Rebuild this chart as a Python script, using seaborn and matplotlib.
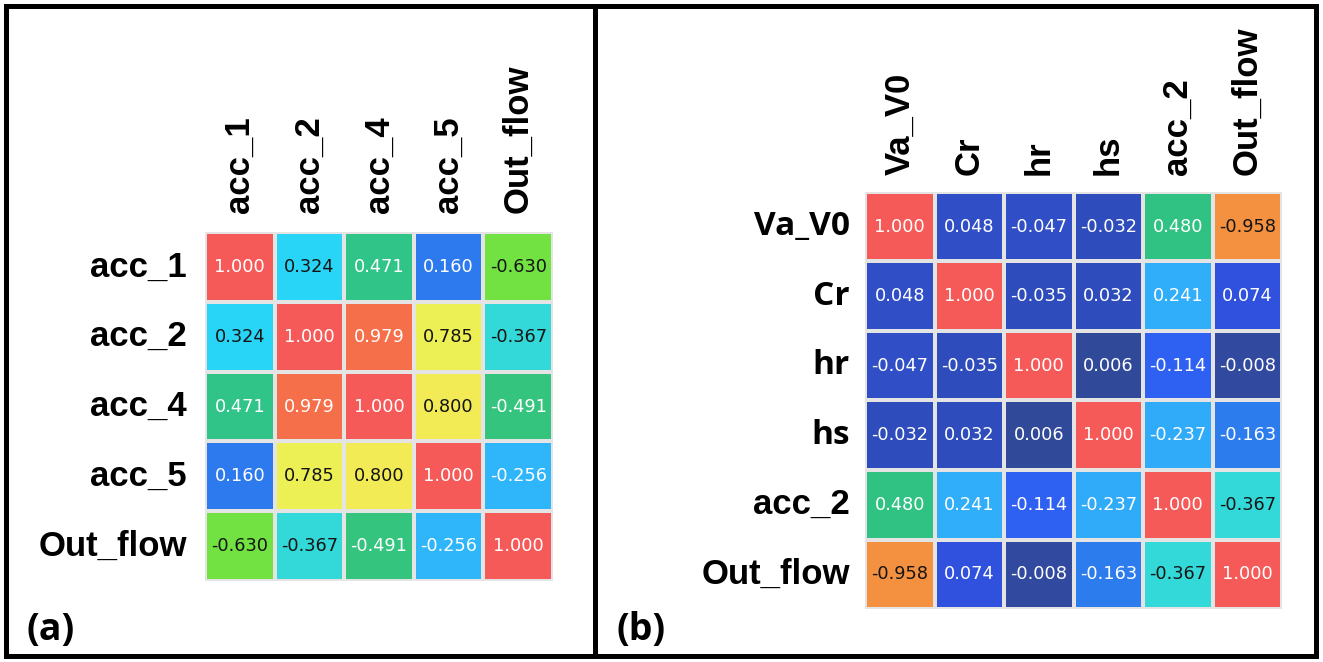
import numpy as np
import pandas as pd
import matplotlib
matplotlib.use("Agg")
import matplotlib.pyplot as plt
from matplotlib.colors import LinearSegmentedColormap
from matplotlib.patches import Rectangle
import seaborn as sns

# ---- data -------------------------------------------------------------
left_labels = ["acc_1", "acc_2", "acc_4", "acc_5", "Out_flow"]
left_corr = [
    [1.000, 0.324, 0.471, 0.160, -0.630],
    [0.324, 1.000, 0.979, 0.785, -0.367],
    [0.471, 0.979, 1.000, 0.800, -0.491],
    [0.160, 0.785, 0.800, 1.000, -0.256],
    [-0.630, -0.367, -0.491, -0.256, 1.000],
]

right_labels = ["Va_V0", "Cr", "hr", "hs", "acc_2", "Out_flow"]
right_corr = [
    [1.000, 0.048, -0.047, -0.032, 0.480, -0.958],
    [0.048, 1.000, -0.035, 0.032, 0.241, 0.074],
    [-0.047, -0.035, 1.000, 0.006, -0.114, -0.008],
    [-0.032, 0.032, 0.006, 1.000, -0.237, -0.163],
    [0.480, 0.241, -0.114, -0.237, 1.000, -0.367],
    [-0.958, 0.074, -0.008, -0.163, -0.367, 1.000],
]

# colour scale on the magnitude of the correlation
cmap_stops = [
    (0.000, (50, 72, 148)),
    (0.030, (46, 76, 186)),
    (0.050, (48, 78, 200)),
    (0.075, (48, 82, 225)),
    (0.114, (46, 96, 242)),
    (0.160, (44, 124, 238)),
    (0.240, (48, 174, 250)),
    (0.324, (40, 214, 246)),
    (0.367, (52, 216, 214)),
    (0.480, (48, 194, 130)),
    (0.630, (112, 226, 66)),
    (0.790, (242, 240, 86)),
    (0.958, (242, 150, 62)),
    (0.979, (246, 112, 74)),
    (1.000, (246, 90, 88)),
]
corr_cmap = LinearSegmentedColormap.from_list(
    "corr_abs", [(p, tuple(c / 255 for c in rgb)) for p, rgb in cmap_stops]
)

sns.set_theme(style="white")
plt.rcParams["font.family"] = ["DejaVu Sans"]
plt.rcParams["text.color"] = "black"
plt.rcParams["xtick.color"] = "black"
plt.rcParams["ytick.color"] = "black"

W, H = 1323, 662
fig = plt.figure(figsize=(W / 100, H / 100), dpi=100)
fig.patch.set_facecolor("white")


def px_axes(x0, y0, x1, y1):
    return fig.add_axes([x0 / W, 1 - y1 / H, (x1 - x0) / W, (y1 - y0) / H])


def draw_corr(ax, labels, values, xpad, ypad, light_rows=()):
    df = pd.DataFrame(values, index=labels, columns=labels)
    annot = df.map(lambda v: f"{v:.3f}")
    sns.heatmap(
        df.abs(), ax=ax, cmap=corr_cmap, vmin=0, vmax=1,
        annot=annot, fmt="", cbar=False, square=False,
        linewidths=1.6, linecolor="#e4e4e4",
        annot_kws={"fontsize": 12.8, "family": "DejaVu Sans"},
    )
    # annotation colour from the brightness of its cell
    for txt in ax.texts:
        v = abs(float(txt.get_text()))
        r, g, b = corr_cmap(v)[:3]
        bright = 0.299 * r + 0.587 * g + 0.114 * b
        txt.set_color("#141414" if bright > 0.60 else "white")
    ax.xaxis.tick_top()
    ax.tick_params(axis="both", length=0, labelcolor="black")
    ax.tick_params(axis="x", pad=xpad)
    ax.tick_params(axis="y", pad=ypad)
    ax.set_xticklabels(labels, rotation=90, fontsize=25, color="black",
                       family="Liberation Sans", fontweight="bold")
    ax.set_yticklabels(labels, rotation=0, fontsize=25, color="black",
                       family="Liberation Sans", fontweight="bold")
    for i in light_rows:
        t = ax.get_yticklabels()[i]
        t.set_family("Open Sans")
        t.set_fontweight("bold")
        t.set_fontsize(24)
    ax.set_xlabel("")
    ax.set_ylabel("")


ax_a = px_axes(205, 232, 553, 581)
draw_corr(ax_a, left_labels, left_corr, xpad=14, ypad=13)

ax_b = px_axes(865, 192, 1282, 609)
draw_corr(ax_b, right_labels, right_corr, xpad=12, ypad=11,
          light_rows=(0, 1, 2, 3))

# panel frames
for x0, x1 in [(6, 595), (595, 1316)]:
    fig.patches.append(Rectangle(
        (x0 / W, 1 - 656 / H), (x1 - x0) / W, (656 - 6) / H,
        transform=fig.transFigure, fill=False, edgecolor="black",
        linewidth=3.6, zorder=10))

# panel letters
fig.text(26 / W, 1 - 630 / H, "(a)", fontsize=27, fontweight="bold",
         family="Open Sans", va="center", ha="left", color="black")
fig.text(616 / W, 1 - 630 / H, "(b)", fontsize=27, fontweight="bold",
         family="Open Sans", va="center", ha="left", color="black")

fig.savefig("out.png", dpi=100, facecolor="white")
